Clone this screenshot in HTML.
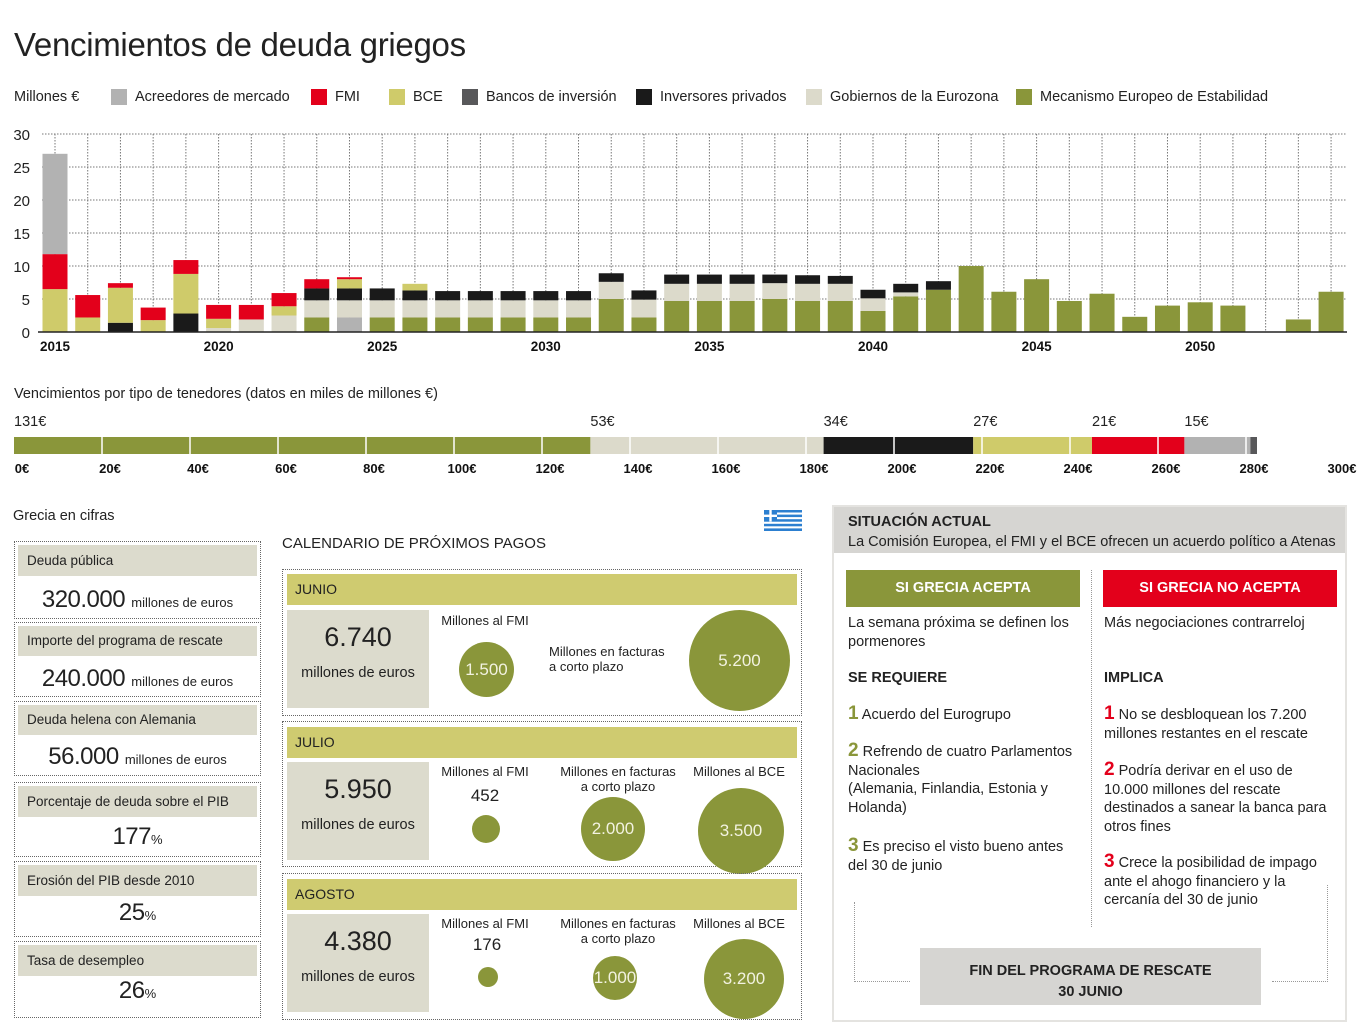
<!DOCTYPE html>
<html><head><meta charset="utf-8">
<style>
*{box-sizing:border-box;margin:0;padding:0}
body{width:1367px;height:1035px;background:#fff;font-family:"Liberation Sans",sans-serif;color:#222;position:relative;overflow:hidden}
.a{position:absolute;white-space:nowrap}
.title{left:14px;top:26px;font-size:33px;font-weight:300;letter-spacing:-0.3px;color:#222}
.leg{top:89px;font-size:14.5px}
.sw{position:absolute;top:89px;width:16px;height:16px}
.dot{border:1.5px dotted #666}
.hdr{position:absolute;left:3px;right:3px;background:#dcdbcd;font-size:13.5px;padding-left:9px}
.val{position:absolute;left:0;right:0;text-align:center;font-size:24px;letter-spacing:-0.5px}
.val small{font-size:13px;letter-spacing:0}
.mon{position:absolute;left:4px;right:4px;height:31px;background:#cfcb70;font-size:14px;padding:7px 8px}
.gbox{position:absolute;left:4px;width:142px;height:98px;background:#dcdbcd;text-align:center}
.gbox b{display:block;font-weight:400;font-size:27px;margin-top:12px}
.gbox span{display:block;font-size:14.5px;margin-top:12px}
.lbl{position:absolute;font-size:13px;text-align:center;line-height:15px}
.circ{position:absolute;border-radius:50%;background:#8a963a;color:#f2f2e0;display:flex;align-items:center;justify-content:center;font-size:17px}
.rt{font-size:14.5px;line-height:18.5px;position:absolute;white-space:normal}
.n1{font-weight:700;font-size:19px}
</style></head><body>
<div class="a title">Vencimientos de deuda griegos</div>

<div class="a leg" style="left:14px">Millones €</div>
<div class="sw" style="left:111px;background:#b2b2b2"></div>
<div class="a leg" style="left:135px">Acreedores de mercado</div>
<div class="sw" style="left:311px;background:#e3001b"></div>
<div class="a leg" style="left:335px">FMI</div>
<div class="sw" style="left:389px;background:#cfcb6a"></div>
<div class="a leg" style="left:413px">BCE</div>
<div class="sw" style="left:462px;background:#58585a"></div>
<div class="a leg" style="left:486px">Bancos de inversión</div>
<div class="sw" style="left:636px;background:#1a1a1a"></div>
<div class="a leg" style="left:660px">Inversores privados</div>
<div class="sw" style="left:806px;background:#dcdacb"></div>
<div class="a leg" style="left:830px">Gobiernos de la Eurozona</div>
<div class="sw" style="left:1016px;background:#8a963a"></div>
<div class="a leg" style="left:1040px">Mecanismo Europeo de Estabilidad</div>

<svg id="chart" width="1367" height="480" style="position:absolute;left:0;top:0"></svg>

<div class="a" style="left:14px;top:386px;font-size:14.5px">Vencimientos por tipo de tenedores (datos en miles de millones €)</div>

<div class="a" style="left:13px;top:508px;font-size:14.5px">Grecia en cifras</div>
<div class="a dot" style="left:14px;top:541px;width:247px;height:78px">
 <div class="hdr" style="top:3px;height:31px;line-height:31px">Deuda pública</div>
 <div class="val" style="top:44px">320.000 <small>millones de euros</small></div></div>
<div class="a dot" style="left:14px;top:622px;width:247px;height:75px">
 <div class="hdr" style="top:3px;height:30px;line-height:30px">Importe del programa de rescate</div>
 <div class="val" style="top:42px">240.000 <small>millones de euros</small></div></div>
<div class="a dot" style="left:14px;top:701px;width:247px;height:75px">
 <div class="hdr" style="top:3px;height:30px;line-height:30px">Deuda helena con Alemania</div>
 <div class="val" style="top:41px">56.000 <small>millones de euros</small></div></div>
<div class="a dot" style="left:14px;top:782px;width:247px;height:75px">
 <div class="hdr" style="top:3px;height:31px;line-height:31px">Porcentaje de deuda sobre el PIB</div>
 <div class="val" style="top:40px">177<small>%</small></div></div>
<div class="a dot" style="left:14px;top:861px;width:247px;height:76px">
 <div class="hdr" style="top:3px;height:31px;line-height:31px">Erosión del PIB desde 2010</div>
 <div class="val" style="top:37px">25<small>%</small></div></div>
<div class="a dot" style="left:14px;top:941px;width:247px;height:77px">
 <div class="hdr" style="top:3px;height:31px;line-height:31px">Tasa de desempleo</div>
 <div class="val" style="top:35px">26<small>%</small></div></div>

<svg class="a" style="left:764px;top:510px" width="38" height="21">
 <rect width="38" height="21" fill="#fff"/>
 <rect y="0" width="38" height="2.5" fill="#2c7fd0"/><rect y="4.6" width="38" height="2.5" fill="#2c7fd0"/><rect y="9.2" width="38" height="2.5" fill="#2c7fd0"/><rect y="13.8" width="38" height="2.5" fill="#2c7fd0"/><rect y="18.4" width="38" height="2.6" fill="#2c7fd0"/>
 <rect width="13" height="11.5" fill="#2c7fd0"/><rect x="5.3" width="2.4" height="11.5" fill="#fff"/><rect y="4.6" width="13" height="2.4" fill="#fff"/>
</svg>

<div class="a" style="left:282px;top:535px;font-size:15px">CALENDARIO DE PRÓXIMOS PAGOS</div>

<div class="a dot" style="left:282px;top:569px;width:520px;height:147px">
 <div class="mon" style="top:4px">JUNIO</div>
 <div class="gbox" style="top:40px"><b>6.740</b><span>millones de euros</span></div>
 <div class="lbl" style="left:150px;top:43px;width:104px">Millones al FMI</div>
 <div class="circ" style="left:176px;top:72px;width:55px;height:55px">1.500</div>
 <div class="lbl" style="left:266px;top:74px;width:130px;text-align:left">Millones en facturas<br>a corto plazo</div>
 <div class="circ" style="left:406px;top:40px;width:101px;height:101px">5.200</div>
</div>
<div class="a dot" style="left:282px;top:721px;width:520px;height:146px">
 <div class="mon" style="top:5px">JULIO</div>
 <div class="gbox" style="top:40px"><b>5.950</b><span>millones de euros</span></div>
 <div class="lbl" style="left:150px;top:42px;width:104px">Millones al FMI</div>
 <div class="lbl" style="left:150px;top:66px;width:104px;font-size:17px">452</div>
 <div class="circ" style="left:189px;top:93px;width:28px;height:28px"></div>
 <div class="lbl" style="left:270px;top:42px;width:130px">Millones en facturas<br>a corto plazo</div>
 <div class="circ" style="left:298px;top:75px;width:64px;height:64px">2.000</div>
 <div class="lbl" style="left:404px;top:42px;width:104px">Millones al BCE</div>
 <div class="circ" style="left:415px;top:66px;width:86px;height:86px">3.500</div>
</div>
<div class="a dot" style="left:282px;top:873px;width:520px;height:147px">
 <div class="mon" style="top:5px">AGOSTO</div>
 <div class="gbox" style="top:40px"><b>4.380</b><span>millones de euros</span></div>
 <div class="lbl" style="left:150px;top:42px;width:104px">Millones al FMI</div>
 <div class="lbl" style="left:152px;top:63px;width:104px;font-size:17px">176</div>
 <div class="circ" style="left:195px;top:93px;width:20px;height:20px"></div>
 <div class="lbl" style="left:270px;top:42px;width:130px">Millones en facturas<br>a corto plazo</div>
 <div class="circ" style="left:310px;top:82px;width:44px;height:44px">1.000</div>
 <div class="lbl" style="left:404px;top:42px;width:104px">Millones al BCE</div>
 <div class="circ" style="left:421px;top:65px;width:80px;height:80px">3.200</div>
</div>

<div class="a" style="left:832px;top:505px;width:515px;height:517px;border:2px solid #e4e3e0">
 <div style="position:absolute;left:0;top:0;right:0;height:46px;background:#d6d5d2"></div>
 <div class="a" style="left:14px;top:7px;font-size:14.5px;font-weight:700">SITUACIÓN ACTUAL</div>
 <div class="a" style="left:14px;top:27px;font-size:14.5px">La Comisión Europea, el FMI y el BCE ofrecen un acuerdo político a Atenas</div>
 <div class="a" style="left:12px;top:63px;width:234px;height:37px;background:#8a963a;color:#fff;font-weight:700;font-size:14.5px;text-align:center;line-height:37px">SI GRECIA ACEPTA</div>
 <div class="a" style="left:269px;top:63px;width:234px;height:37px;background:#e3001b;color:#fff;font-weight:700;font-size:14.5px;text-align:center;line-height:37px">SI GRECIA NO ACEPTA</div>
 <div class="a" style="left:257px;top:63px;height:357px;border-left:1.5px dotted #999"></div>
 <div class="rt" style="left:14px;top:107px;width:235px">La semana próxima se definen los pormenores</div>
 <div class="rt" style="left:270px;top:107px;width:235px">Más negociaciones contrarreloj</div>
 <div class="rt" style="left:14px;top:162px;font-weight:700">SE REQUIERE</div>
 <div class="rt" style="left:270px;top:162px;font-weight:700">IMPLICA</div>
 <div class="rt" style="left:14px;top:198px;width:235px"><span class="n1" style="color:#8a963a">1</span> Acuerdo del Eurogrupo</div>
 <div class="rt" style="left:14px;top:235px;width:240px"><span class="n1" style="color:#8a963a">2</span> Refrendo de cuatro Parlamentos<br>Nacionales<br>(Alemania, Finlandia, Estonia y<br>Holanda)</div>
 <div class="rt" style="left:14px;top:330px;width:235px"><span class="n1" style="color:#8a963a">3</span> Es preciso el visto bueno antes del 30 de junio</div>
 <div class="rt" style="left:270px;top:198px;width:230px"><span class="n1" style="color:#e3001b">1</span> No se desbloquean los 7.200 millones restantes en el rescate</div>
 <div class="rt" style="left:270px;top:254px;width:230px"><span class="n1" style="color:#e3001b">2</span> Podría derivar en el uso de 10.000 millones del rescate destinados a sanear la banca para otros fines</div>
 <div class="rt" style="left:270px;top:346px;width:230px"><span class="n1" style="color:#e3001b">3</span> Crece la posibilidad de impago ante el ahogo financiero y la cercanía del 30 de junio</div>
 <div class="a" style="left:20px;top:395px;width:56px;height:80px;border-left:1.5px dotted #999;border-bottom:1.5px dotted #999"></div>
 <div class="a" style="left:438px;top:378px;width:56px;height:97px;border-right:1.5px dotted #999;border-bottom:1.5px dotted #999"></div>
 <div class="a" style="left:86px;top:441px;width:341px;height:57px;background:#d6d5d2;text-align:center;font-weight:700;font-size:14.5px;line-height:21px;padding-top:13px">FIN DEL PROGRAMA DE RESCATE<br>30 JUNIO</div>
</div>

<script>
const years = [];
for (let y = 2015; y <= 2054; y++) years.push(y);
const esm = [0,0,0,0,0,0,0,0,2.2,0,2.2,2.2,2.2,2.2,2.2,2.2,2.2,5.0,2.2,4.7,4.7,4.7,5.0,4.7,4.7,3.2,5.4,6.4,10.0,6.1,8.0,4.7,5.8,2.3,4.0,4.5,4.0,0,1.9,6.1];
const bancos = [0,0,0,0,0,0,0,0,0,2.2,0,0,0,0,0,0,0,0,0,0,0,0,0,0,0,0,0,0,0,0,0,0,0,0,0,0,0,0,0,0];
const gob = [0,0,0,0,0,0.6,1.9,2.5,2.6,2.6,2.6,2.6,2.6,2.6,2.6,2.6,2.6,2.6,2.7,2.6,2.6,2.6,2.4,2.6,2.6,1.9,0.6,0,0,0,0,0,0,0,0,0,0,0,0,0];
const inv = [0,0,1.4,0,2.8,0,0,0,1.8,1.8,1.8,1.5,1.4,1.4,1.4,1.4,1.4,1.3,1.4,1.4,1.4,1.4,1.3,1.3,1.2,1.3,1.3,1.3,0,0,0,0,0,0,0,0,0,0,0,0];
const bce = [6.5,2.2,5.3,1.8,6.0,1.4,0,1.4,0,1.4,0,1.0,0,0,0,0,0,0,0,0,0,0,0,0,0,0,0,0,0,0,0,0,0,0,0,0,0,0,0,0];
const fmi = [5.3,3.4,0.7,1.9,2.1,2.1,2.2,2.0,1.4,0.3,0,0,0,0,0,0,0,0,0,0,0,0,0,0,0,0,0,0,0,0,0,0,0,0,0,0,0,0,0,0];
const acr = [15.2,0,0,0,0,0,0,0,0,0,0,0,0,0,0,0,0,0,0,0,0,0,0,0,0,0,0,0,0,0,0,0,0,0,0,0,0,0,0,0];
const yTicks = [0,5,10,15,20,25,30];
const xLabelYears = [2015,2020,2025,2030,2035,2040,2045,2050];
const holderVals = [131,53,34,27,21,15,1.5];
const holderLabels = ["131€","53€","34€","27€","21€","15€",""];
const holderTicks = [0,20,40,60,80,100,120,140,160,180,200,220,240,260,280,300];

const NS = "http://www.w3.org/2000/svg";
const svg = document.getElementById("chart");
function mk(tag, attrs, parent){const e=document.createElementNS(NS,tag);for(const k in attrs)e.setAttribute(k,attrs[k]);(parent||svg).appendChild(e);return e;}
const xS = y => 55 + (y - 2015) * 32.72;
const yS = v => 332 - v * 6.6;

yTicks.forEach(t=>{
  if(t>0){const l=mk("line",{x1:42,x2:1347,y1:yS(t),y2:yS(t),stroke:"#777","stroke-width":1,"stroke-dasharray":"1.5,1.5"});
  
  }
  const tx=mk("text",{x:30,y:yS(t)+6,"text-anchor":"end","font-size":15,fill:"#222"});tx.textContent=t;
  
  
});
years.forEach(y=>{
  const l=mk("line",{x1:xS(y),x2:xS(y),y1:yS(30),y2:332,stroke:"#777","stroke-width":1,"stroke-dasharray":"1.5,1.5"});
  
  
});
const series=[[esm,"#8a963a","mede"],[bancos,"#b2b2b2","bancos"],[gob,"#dcdacb","gobiernos"],[inv,"#1a1a1a","inversores"],[bce,"#cfcb6a","bce"],[fmi,"#e3001b","fmi"],[acr,"#b2b2b2","acreedores"]];
years.forEach((y,i)=>{
  let base=0;
  series.forEach(([arr,col,nm])=>{
    const v=arr[i]; if(!v) return;
    const r=mk("rect",{x:xS(y)-12.5,y:yS(base+v),width:25,height:v*6.6,fill:col});
    
    
    base+=v;
  });
});
const ax=mk("line",{x1:38,x2:1347,y1:332,y2:332,stroke:"#222","stroke-width":1.5});


xLabelYears.forEach(y=>{
  const t=mk("text",{x:xS(y),y:351,"text-anchor":"middle","font-size":13.5,"font-weight":"bold",fill:"#111"});t.textContent=y;
  
  
});

const hx = v => 14 + v * 4.4;
const hcols=["#8a963a","#dcdacb","#1a1a1a","#cfcb6a","#e3001b","#b2b2b2","#58585a"];
const hnames=["mede","gobiernos","inversores","bce","fmi","acreedores","bancos"];
let acc=0;
holderVals.forEach((v,i)=>{
  const r=mk("rect",{x:hx(acc),y:437,width:v*4.4,height:17,fill:hcols[i]});
  
  
  if(holderLabels[i]){const t=mk("text",{x:hx(acc),y:426,"font-size":14.5,fill:"#222"});t.textContent=holderLabels[i];
  
  }
  acc+=v;
});
holderTicks.forEach(t=>{
  if(t>0 && t<acc){const l=mk("line",{x1:hx(t),x2:hx(t),y1:437,y2:454,stroke:"#fff","stroke-width":1.5});
  
  }
  const tx=mk("text",{x:hx(t)+8,y:473,"text-anchor":"middle","font-size":13,"font-weight":"bold",fill:"#111"});tx.textContent=t+"€";
  
  
});
</script>
</body></html>
